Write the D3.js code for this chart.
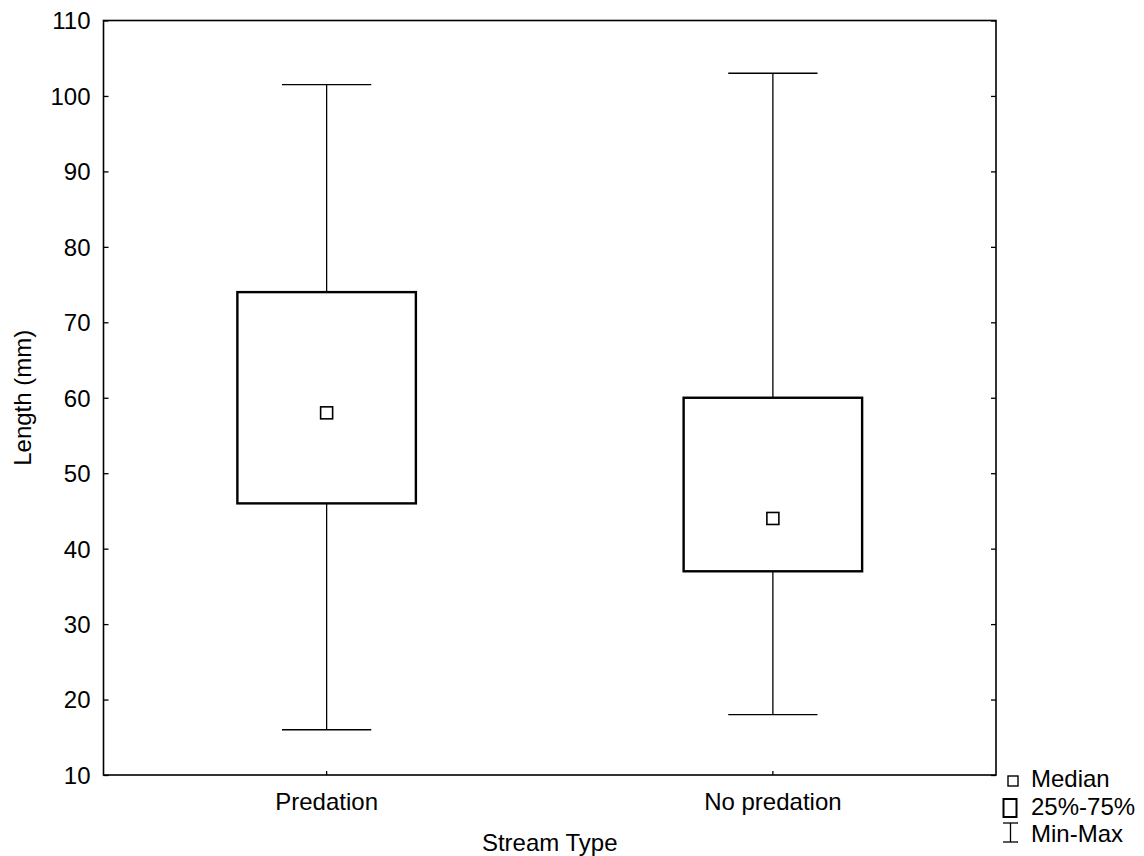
<!DOCTYPE html>
<html>
<head>
<meta charset="utf-8">
<script src="https://cdn.jsdelivr.net/npm/d3@7"></script>
<style>
  html, body { margin: 0; padding: 0; background: #fff; }
  text { font-family: "Liberation Sans", Arial, sans-serif; fill: #000; }
</style>
</head>
<body>
<svg id="chart" width="1144" height="856"></svg>
<script>
const categories = ["Predation", "No predation"];
const minValues = [16, 18];
const q1Values = [46, 37];
const medianValues = [58, 44];
const q3Values = [74, 60];
const maxValues = [101.5, 103];
const yTicks = [10, 20, 30, 40, 50, 60, 70, 80, 90, 100, 110];
const legendLabels = ["Median", "25%-75%", "Min-Max"];
const xTitle = "Stream Type";
const yTitle = "Length (mm)";

const W = 1144, H = 856;
const m = { left: 103.5, right: 996, top: 20.5, bottom: 775 };
const fs = 24;

const svg = d3.select("#chart");
const x = d3.scaleBand().domain(categories).range([m.left, m.right]).padding(0);
const y = d3.scaleLinear().domain([10, 110]).range([m.bottom, m.top]);

const data = categories.map((c, i) => ({
  cat: c, min: minValues[i], q1: q1Values[i], med: medianValues[i], q3: q3Values[i], max: maxValues[i]
}));

// axes
const yAxis = d3.axisLeft(y).tickValues(yTicks).tickSizeInner(-5).tickSizeOuter(0).tickPadding(13);
const gy = svg.append("g").attr("transform", `translate(${m.left},0)`).call(yAxis);
gy.select(".domain").remove();
gy.selectAll("line").attr("stroke", "#000").attr("stroke-width", 1.3);
gy.selectAll("text").style("font-size", fs + "px").attr("dy", "0.35em");

const yAxisR = d3.axisRight(y).tickValues(yTicks).tickSizeInner(-5).tickSizeOuter(0).tickFormat("");
const gyr = svg.append("g").attr("transform", `translate(${m.right},0)`).call(yAxisR);
gyr.select(".domain").remove();
gyr.selectAll("line").attr("stroke", "#000").attr("stroke-width", 1.3);

const xAxis = d3.axisBottom(x).tickSizeInner(-4).tickSizeOuter(0).tickPadding(18);
const gx = svg.append("g").attr("transform", `translate(0,${m.bottom})`).call(xAxis);
gx.select(".domain").remove();
gx.selectAll("line").attr("stroke", "#000").attr("stroke-width", 1.3);
gx.selectAll("text").style("font-size", fs + "px").attr("dy", "0.71em");

// frame
svg.append("rect")
  .attr("x", m.left).attr("y", m.top)
  .attr("width", m.right - m.left).attr("height", m.bottom - m.top)
  .attr("fill", "none").attr("stroke", "#000").attr("stroke-width", 1.6);

// boxes
const bw = x.bandwidth() * 0.4;
const cw = bw / 2;
const g = svg.append("g");
data.forEach(d => {
  const cx = x(d.cat) + x.bandwidth() / 2;
  g.append("line").attr("x1", cx).attr("x2", cx).attr("y1", y(d.max)).attr("y2", y(d.q3))
    .attr("stroke", "#000").attr("stroke-width", 1.3);
  g.append("line").attr("x1", cx).attr("x2", cx).attr("y1", y(d.q1)).attr("y2", y(d.min))
    .attr("stroke", "#000").attr("stroke-width", 1.3);
  g.append("line").attr("x1", cx - cw / 2).attr("x2", cx + cw / 2).attr("y1", y(d.max)).attr("y2", y(d.max))
    .attr("stroke", "#000").attr("stroke-width", 1.4);
  g.append("line").attr("x1", cx - cw / 2).attr("x2", cx + cw / 2).attr("y1", y(d.min)).attr("y2", y(d.min))
    .attr("stroke", "#000").attr("stroke-width", 1.4);
  g.append("rect").attr("x", cx - bw / 2).attr("y", y(d.q3))
    .attr("width", bw).attr("height", y(d.q1) - y(d.q3))
    .attr("fill", "#fff").attr("stroke", "#000").attr("stroke-width", 2.4);
  g.append("rect").attr("x", cx - 6).attr("y", y(d.med) - 6)
    .attr("width", 12).attr("height", 12)
    .attr("fill", "#fff").attr("stroke", "#000").attr("stroke-width", 1.6);
});

// axis titles
svg.append("text").attr("x", (m.left + m.right) / 2).attr("y", 851)
  .attr("text-anchor", "middle").style("font-size", fs + "px").text(xTitle);
svg.append("text").attr("transform", `translate(31,${(m.top + m.bottom) / 2}) rotate(-90)`)
  .attr("text-anchor", "middle").style("font-size", fs + "px").text(yTitle);

// legend
const lg = svg.append("g");
const lx = 1031, baselines = [787, 815, 842];
lg.append("rect").attr("x", 1008).attr("y", 776).attr("width", 10).attr("height", 10)
  .attr("fill", "#fff").attr("stroke", "#000").attr("stroke-width", 1.4);
lg.append("rect").attr("x", 1003.5).attr("y", 799).attr("width", 13).attr("height", 18)
  .attr("fill", "#fff").attr("stroke", "#000").attr("stroke-width", 2);
lg.append("line").attr("x1", 1010.5).attr("x2", 1010.5).attr("y1", 823).attr("y2", 842)
  .attr("stroke", "#000").attr("stroke-width", 1.3);
lg.append("line").attr("x1", 1003).attr("x2", 1018).attr("y1", 823).attr("y2", 823)
  .attr("stroke", "#000").attr("stroke-width", 1.3);
lg.append("line").attr("x1", 1003).attr("x2", 1018).attr("y1", 842).attr("y2", 842)
  .attr("stroke", "#000").attr("stroke-width", 1.3);
legendLabels.forEach((t, i) => {
  lg.append("text").attr("x", lx).attr("y", baselines[i]).style("font-size", fs + "px").text(t);
});
</script>
</body>
</html>
